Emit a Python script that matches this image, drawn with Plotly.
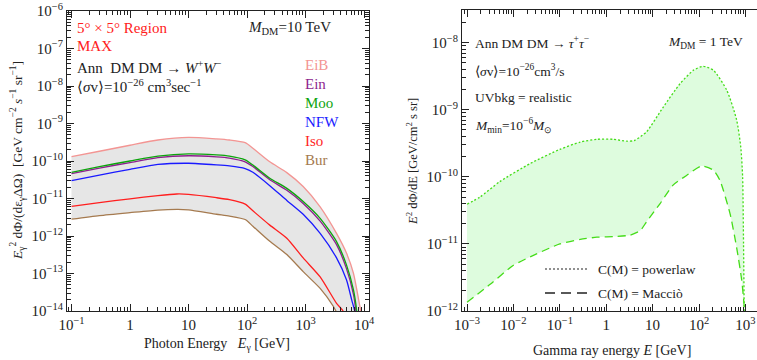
import plotly.graph_objects as go

# ---------------- left panel: W+W- annihilation, 10 TeV, 5x5 deg region ----------------
E_EIB = [0.1, 0.3, 1, 3, 10, 30, 50, 93, 126, 245, 479, 912, 1780, 3390, 5010, 6610, 8510, 8900]
F_EIB = [1.30e-10, 1.82e-10, 2.63e-10, 3.63e-10, 4.27e-10, 3.89e-10, 3.63e-10, 3.09e-10, 2.19e-10,
         9.5e-11, 4.9e-11, 2.09e-11, 6.0e-12, 1.17e-12, 3.5e-13, 1.0e-13, 1.3e-14, 9e-15]

E_EIN = [0.1, 0.3, 1, 3, 10, 30, 50, 93, 126, 245, 479, 912, 1780, 3390, 5010, 6610, 7240, 7500]
F_EIN = [4.6e-11, 6.5e-11, 9.1e-11, 1.23e-10, 1.38e-10, 1.29e-10, 1.20e-10, 9.5e-11, 7.1e-11,
         3.16e-11, 1.66e-11, 7.4e-12, 2.5e-12, 5.9e-13, 1.35e-13, 2.75e-14, 1.0e-14, 5e-15]

E_MOO = [0.1, 0.3, 1, 3, 10, 30, 50, 93, 126, 245, 479, 912, 1780, 3390, 5010, 6610, 7500, 7760]
F_MOO = [5.0e-11, 7.1e-11, 1.0e-10, 1.35e-10, 1.55e-10, 1.45e-10, 1.35e-10, 1.07e-10, 7.8e-11,
         3.47e-11, 1.86e-11, 8.3e-12, 2.95e-12, 7.1e-13, 1.7e-13, 3.6e-14, 1.0e-14, 5e-15]

E_NFW = [0.1, 0.3, 1, 3, 10, 30, 50, 93, 126, 245, 479, 912, 1780, 3390, 5010, 6170, 6920, 7160]
F_NFW = [3.0e-11, 4.2e-11, 6.0e-11, 8.1e-11, 8.7e-11, 7.9e-11, 7.4e-11, 6.3e-11, 5.0e-11,
         2.2e-11, 8.9e-12, 3.8e-12, 1.17e-12, 2.6e-13, 6.8e-14, 1.95e-14, 1.0e-14, 5e-15]

E_ISO = [0.1, 0.3, 1, 3, 6.3, 10, 30, 50, 93, 126, 245, 479, 912, 1780, 3390, 4370, 4570]
F_ISO = [6.2e-12, 7.8e-12, 9.8e-12, 1.2e-11, 1.32e-11, 1.29e-11, 1.05e-11, 9.3e-12, 7.1e-12, 4.7e-12,
         1.95e-12, 8.7e-13, 2.6e-13, 8.1e-14, 1.6e-14, 1.0e-14, 7e-15]

E_BUR = [0.1, 0.3, 1, 3, 6.3, 10, 30, 50, 93, 126, 245, 479, 912, 1780, 3020, 3310, 3550]
F_BUR = [2.8e-12, 3.5e-12, 4.2e-12, 4.9e-12, 5.1e-12, 5.0e-12, 3.8e-12, 3.4e-12, 2.75e-12, 1.82e-12,
         7.2e-13, 3.2e-13, 1.12e-13, 4.0e-14, 1.3e-14, 1.0e-14, 8e-15]

PROFILES = ["EiB", "Ein", "Moo", "NFW", "Iso", "Bur"]
PROFILE_COLORS = ["#f39593", "#8e1f8e", "#0ca40c", "#1a1aff", "#ff1f1f", "#a57a4f"]

# ---------------- right panel: tau+tau- annihilation, 1 TeV ----------------
E_POW = [0.001, 0.0019, 0.0051, 0.023, 0.1, 0.275, 0.63, 1.41, 2.75, 4.0, 7.4, 17, 39, 76,
         123, 204, 398, 646, 794, 871, 912, 944]
F_POW = [3.9e-11, 5.0e-11, 8.5e-11, 1.58e-10, 2.57e-10, 3.3e-10, 3.63e-10, 3.63e-10, 3.4e-10,
         3.47e-10, 4.7e-10, 1.1e-9, 2.45e-9, 3.9e-9, 4.45e-9, 3.9e-9, 1.95e-9, 7.1e-10, 2.8e-10,
         1.0e-10, 1.0e-11, 7.9e-13]

E_MAC = [0.001, 0.00316, 0.01, 0.0316, 0.1, 0.275, 0.63, 1.41, 3.24, 5.4, 7.4, 14.5, 28, 54,
         112, 204, 282, 468, 646, 832, 933, 1000]
F_MAC = [1.35e-12, 2.5e-12, 4.8e-12, 7.1e-12, 1.0e-11, 1.17e-11, 1.26e-11, 1.29e-11, 1.35e-11,
         1.58e-11, 2.14e-11, 4.0e-11, 7.6e-11, 1.05e-10, 1.45e-10, 1.26e-10, 8.9e-11, 2.8e-11,
         8.9e-12, 2.9e-12, 1.26e-12, 5e-13]

GREEN = "#44dc18"
SERIF = "Liberation Serif"
W, H = 757, 360


def px(x):
    return x / W


def py(y):
    return 1 - y / H


def sup_decade(k):
    if k == 0:
        return "1"
    if k == 1:
        return "10"
    return "10<sup>%s</sup>" % (str(k).replace("-", "−"))


def minor_vals(lo, hi):
    vals = []
    for d in range(lo, hi + 1):
        for m in range(2, 10):
            vals.append(m * 10.0 ** d)
    return vals


fig = go.Figure()

# grey band between the most and least concentrated profiles
fig.add_trace(go.Scatter(x=E_BUR, y=F_BUR, mode="lines", line=dict(width=0, shape="spline", smoothing=0.6),
                         hoverinfo="skip", showlegend=False, xaxis="x", yaxis="y"))
fig.add_trace(go.Scatter(x=E_EIB, y=F_EIB, mode="lines", line=dict(width=0, shape="spline", smoothing=0.6),
                         fill="tonexty", fillcolor="#e6e6e6", hoverinfo="skip", showlegend=False,
                         xaxis="x", yaxis="y"))

series = [(E_EIB, F_EIB), (E_EIN, F_EIN), (E_MOO, F_MOO), (E_NFW, F_NFW), (E_ISO, F_ISO), (E_BUR, F_BUR)]
for name, col, (ex, fy) in zip(PROFILES, PROFILE_COLORS, series):
    fig.add_trace(go.Scatter(x=ex, y=fy, mode="lines", name=name,
                             line=dict(color=col, width=1.3, shape="spline", smoothing=0.6),
                             showlegend=False, xaxis="x", yaxis="y"))

# right panel: band between the two concentration models
fig.add_trace(go.Scatter(x=E_MAC, y=F_MAC, mode="lines", name="C(M) = Macciò",
                         line=dict(color=GREEN, width=1.3, dash="8px,5px", shape="spline", smoothing=0.6),
                         showlegend=False, xaxis="x2", yaxis="y2"))
fig.add_trace(go.Scatter(x=E_POW, y=F_POW, mode="lines", name="C(M) = powerlaw",
                         line=dict(color=GREEN, width=1.3, dash="2px,2px", shape="spline", smoothing=0.6),
                         fill="tonexty", fillcolor="rgba(200,250,200,0.6)",
                         showlegend=False, xaxis="x2", yaxis="y2"))

tick_font = dict(family=SERIF, size=15, color="#222")
axis_common = dict(type="log", showgrid=False, zeroline=False, showline=True, linecolor="#222",
                   linewidth=1.2, ticks="inside", ticklen=7, tickwidth=1, tickcolor="#222",
                   tickfont=tick_font, automargin=False, ticklabelstandoff=0)

fig.update_layout(
    template="none",
    width=W, height=H, margin=dict(l=0, r=0, t=0, b=0, pad=0),
    paper_bgcolor="white", plot_bgcolor="white",
    font=dict(family=SERIF, size=14, color="#222"),
    xaxis=dict(axis_common, domain=[px(67), px(369)], range=[-1.077, 4.085], mirror="ticks",
               tickvals=[10.0 ** k for k in range(-1, 5)], ticktext=[sup_decade(k) for k in range(-1, 5)],
               minor=dict(ticks="inside", ticklen=4, tickcolor="#222", tickvals=minor_vals(-2, 3)),
               anchor="y"),
    yaxis=dict(axis_common, domain=[py(311), py(11)], range=[-14, -6], mirror="ticks",
               tickvals=[10.0 ** k for k in range(-14, -5)], ticktext=[sup_decade(k) for k in range(-14, -5)],
               minor=dict(ticks="inside", ticklen=4, tickcolor="#222", tickvals=minor_vals(-14, -7)),
               anchor="x"),
    xaxis2=dict(axis_common, domain=[px(462), 1.0], range=[-3.108, 3.25], mirror="ticks",
                tickvals=[10.0 ** k for k in range(-3, 4)], ticktext=[sup_decade(k) for k in range(-3, 4)],
                minor=dict(ticks="inside", ticklen=4, tickcolor="#222", tickvals=minor_vals(-4, 3)),
                anchor="y2"),
    yaxis2=dict(axis_common, domain=[py(311), py(10)], range=[-12, -7.512], mirror=False,
                tickvals=[10.0 ** k for k in range(-12, -7)], ticktext=[sup_decade(k) for k in range(-12, -7)],
                minor=dict(ticks="inside", ticklen=4, tickcolor="#222", tickvals=minor_vals(-12, -8)),
                anchor="x2"),
)

ann = []


def text(x, y, s, color="#222", size=15, xanchor="left", angle=0):
    ann.append(dict(x=px(x), y=py(y), xref="paper", yref="paper", text=s, showarrow=False,
                    xanchor=xanchor, yanchor="middle", textangle=angle, borderpad=0,
                    font=dict(family=SERIF, size=size, color=color)))


# left panel labels
text(76, 28, "5° × 5° Region", color="#ff2020")
text(76, 46, "MAX", color="#ff2020")
text(76, 67, "Ann  DM DM → <i>W</i><sup>+</sup><i>W</i><sup>−</sup>")
text(76, 86, "⟨<i>σ</i>v⟩=10<sup>−26</sup> cm<sup>3</sup>sec<sup>−1</sup>")
text(332, 28, "<i>M</i><sub>DM</sub>=10 TeV", xanchor="right")
for i, (name, col) in enumerate(zip(PROFILES, PROFILE_COLORS)):
    text(304, 65 + 19 * i, name, color=col)
text(217, 344, "Photon Energy   <i>E</i><sub>γ</sub> [GeV]", size=14, xanchor="center")
text(17, 161, "<i>E</i><sub>γ</sub><sup>2</sup> dΦ/(dε<sub>γ</sub>ΔΩ)  [GeV cm<sup>−2</sup> <i>s</i><sup>−1</sup> sr<sup>−1</sup>]",
     size=13.5, xanchor="center", angle=-90)

# right panel labels
text(474, 42, "Ann DM DM → <i>τ</i><sup>+</sup><i>τ</i><sup>−</sup>", size=13.5)
text(744, 42, "<i>M</i><sub>DM</sub> = 1 TeV", size=13.5, xanchor="right")
text(474, 71, "⟨<i>σ</i>v⟩=10<sup>−26</sup>cm<sup>3</sup>/s", size=13.5)
text(474, 98, "UVbkg = realistic", size=13.5)
text(474, 126, "<i>M</i><sub>min</sub>=10<sup>−6</sup><i>M</i><sub>⊙</sub>", size=13.5)
text(597, 269, "C(M) = powerlaw", size=13.5)
text(597, 293, "C(M) = Macciò", size=13.5)
text(612, 350, "Gamma ray energy <i>E</i> [GeV]", size=14, xanchor="center")
text(412, 162, "<i>E</i><sup>2</sup> dΦ/dE [GeV/cm<sup>2</sup> s sr]", size=12.5, xanchor="center", angle=-90)

fig.update_layout(annotations=ann)

# legend line samples for the right panel
fig.add_shape(type="line", xref="paper", yref="paper", x0=px(545), x1=px(587), y0=py(269), y1=py(269),
              line=dict(color="#222", width=1.1, dash="2px,2px"))
fig.add_shape(type="line", xref="paper", yref="paper", x0=px(545), x1=px(587), y0=py(293), y1=py(293),
              line=dict(color="#222", width=1.3, dash="10px,6px"))

fig.write_html("out.html")
